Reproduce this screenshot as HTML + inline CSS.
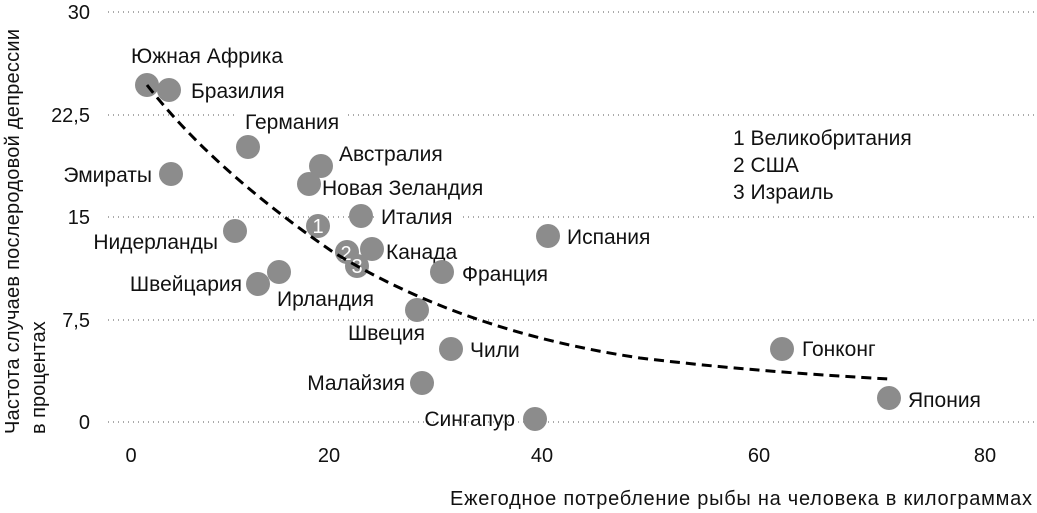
<!DOCTYPE html>
<html><head><meta charset="utf-8"><style>
body{margin:0;background:#fff;}
svg{display:block;font-family:"Liberation Sans","DejaVu Sans",sans-serif;}
.l{font-size:21px;fill:#111;}
.t{font-size:20px;fill:#111;}
.w{fill:#fff;}
</style></head><body>
<svg width="1037" height="513" viewBox="0 0 1037 513">
<g stroke="#555" stroke-width="1" stroke-dasharray="1,4">
<line x1="108" y1="12" x2="1037" y2="12"/>
<line x1="108" y1="115" x2="1037" y2="115"/>
<line x1="108" y1="217" x2="1037" y2="217"/>
<line x1="108" y1="320" x2="1037" y2="320"/>
<line x1="108" y1="422" x2="1037" y2="422"/>
</g>
<g class="t" text-anchor="end">
<text x="90" y="19">30</text>
<text x="90" y="122">22,5</text>
<text x="90" y="224">15</text>
<text x="90" y="327">7,5</text>
<text x="90" y="429">0</text>
</g>
<g class="t" text-anchor="middle">
<text x="131" y="462">0</text>
<text x="329" y="462">20</text>
<text x="542" y="462">40</text>
<text x="759" y="462">60</text>
<text x="985" y="462">80</text>
</g>
<text class="t" x="1032" y="505" text-anchor="end" textLength="582">Ежегодное потребление рыбы на человека в килограммах</text>
<text class="t" transform="translate(19,434) rotate(-90)" textLength="405">Частота случаев послеродовой депрессии</text>
<text class="t" transform="translate(45,434) rotate(-90)">в процентах</text>
<g class="l">
<rect class="w" x="236" y="110" width="112" height="24"/>
<rect class="w" x="376" y="204" width="84" height="24"/>
<text x="131" y="63">Южная Африка</text>
<text x="191" y="98">Бразилия</text>
<text x="245" y="129">Германия</text>
<text x="152" y="182" text-anchor="end">Эмираты</text>
<text x="339" y="161">Австралия</text>
<text x="322" y="195">Новая Зеландия</text>
<text x="381" y="224">Италия</text>
<text x="218" y="249" text-anchor="end">Нидерланды</text>
<text x="386" y="259">Канада</text>
<text x="242" y="291" text-anchor="end">Швейцария</text>
<text x="277" y="306">Ирландия</text>
<text x="462" y="281">Франция</text>
<text x="567" y="244">Испания</text>
<text x="425" y="340" text-anchor="end">Швеция</text>
<text x="470" y="357">Чили</text>
<text x="405" y="390" text-anchor="end">Малайзия</text>
<text x="515" y="426" text-anchor="end">Сингапур</text>
<text x="802" y="356">Гонконг</text>
<text x="908" y="407">Япония</text>
<text x="733" y="145">1 Великобритания</text>
<text x="733" y="172">2 США</text>
<text x="733" y="199">3 Израиль</text>
</g>
<g fill="#8c8c8c">
<circle cx="147" cy="85" r="12"/><circle cx="169" cy="90" r="12"/>
<circle cx="248" cy="147" r="12"/><circle cx="171" cy="174" r="12"/>
<circle cx="321" cy="166" r="12"/><circle cx="309" cy="184" r="12"/>
<circle cx="318" cy="226" r="12"/><circle cx="361" cy="216" r="12"/>
<circle cx="235" cy="231" r="12"/><circle cx="347" cy="252" r="12"/>
<circle cx="372" cy="249" r="12"/><circle cx="357" cy="266" r="12"/>
<circle cx="258" cy="284" r="12"/><circle cx="279" cy="272" r="12"/>
<circle cx="442" cy="272" r="12"/><circle cx="548" cy="236" r="12"/>
<circle cx="417" cy="310" r="12"/><circle cx="451" cy="349" r="12"/>
<circle cx="422" cy="383" r="12"/><circle cx="535" cy="419" r="12"/>
<circle cx="782" cy="349" r="12"/><circle cx="889" cy="398" r="12"/>
</g>
<g fill="#fff" font-size="20" text-anchor="middle">
<text x="318" y="233">1</text>
<text x="346" y="260">2</text>
<text x="357" y="273">3</text>
</g>
<path d="M147,85 C190,140 250,195 333,252 C420,305 520,340 640,358 C740,370 820,375 889,379" fill="none" stroke="#000" stroke-width="3" stroke-dasharray="10,6"/>
</svg>
</body></html>
